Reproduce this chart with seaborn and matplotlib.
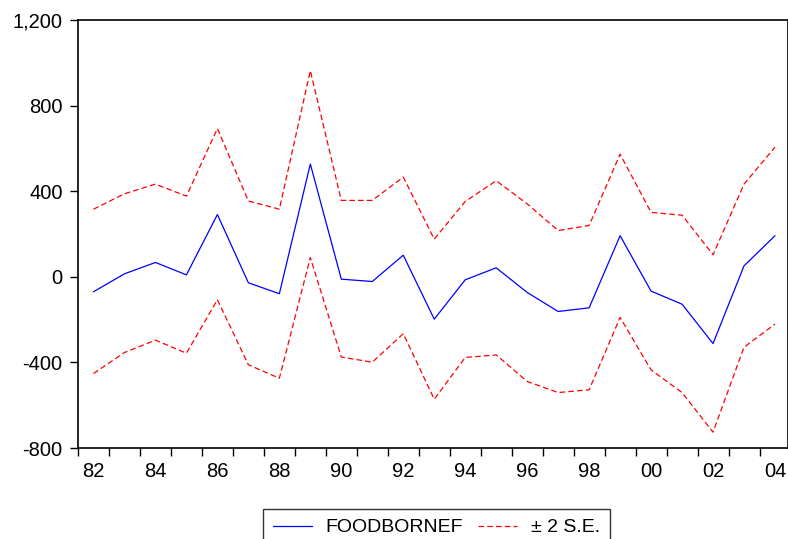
import matplotlib
matplotlib.use("Agg")
import matplotlib.pyplot as plt
from matplotlib.ticker import FuncFormatter, FixedLocator
import seaborn as sns
import pandas as pd

years = list(range(1982, 2005))
forecast = [-70, 14, 67, 9, 291, -28, -79, 527, -11, -22, 101,
            -198, -14, 42, -73, -162, -145, 192, -67, -128, -312, 51, 192]
upper = [316, 388, 433, 377, 693, 354, 316, 963, 357, 357, 466,
         176, 352, 449, 341, 216, 240, 573, 301, 288, 103, 433, 606]
lower = [-452, -354, -296, -357, -107, -411, -474, 90, -375, -399, -266,
         -572, -377, -365, -489, -541, -528, -190, -435, -541, -726, -329, -221]

series_label = "FOODBORNEF"
band_label = "\u00b1 2 S.E."

sns.set_style("white")
plt.rcParams["font.family"] = ["Liberation Sans", "DejaVu Sans"]
plt.rcParams["text.color"] = "black"
plt.rcParams["xtick.labelcolor"] = "black"
plt.rcParams["ytick.labelcolor"] = "black"

df = pd.DataFrame({"pos": range(len(years)), "forecast": forecast,
                   "upper": upper, "lower": lower})

fig = plt.figure(figsize=(7.88, 5.39), dpi=100)
ax = fig.add_axes([78 / 788, 1 - 448 / 539, 1 - 78 / 788, (448 - 20) / 539])

dash = (0, (4.5, 2.5))
sns.lineplot(data=df, x="pos", y="forecast", ax=ax, color="#0000ff",
             linewidth=0.9, label=series_label)
sns.lineplot(data=df, x="pos", y="upper", ax=ax, color="#ff0000",
             linewidth=0.9, label=band_label)
sns.lineplot(data=df, x="pos", y="lower", ax=ax, color="#ff0000",
             linewidth=0.9, label="_nolegend_")
for line in ax.get_lines()[1:]:
    line.set_linestyle(dash)

ax.set_xlim(-0.5, 22.42)
ax.set_ylim(-800, 1200)
ax.set_xlabel("")
ax.set_ylabel("")

# year boundaries get tick marks, labels sit mid-year every second year
ax.xaxis.set_major_locator(FixedLocator([i - 0.5 for i in range(len(years) + 1)]))
ax.set_xticklabels([])
ax.set_xticks(list(range(0, len(years), 2)), minor=True)
ax.set_xticklabels([f"{y % 100:02d}" for y in years[::2]], minor=True)
ax.tick_params(axis="x", which="major", direction="out", length=6, width=1,
               color="black", bottom=True)
ax.tick_params(axis="x", which="minor", length=0, labelsize=14.5, pad=10,
               labelcolor="black")

ax.set_yticks([-800, -400, 0, 400, 800, 1200])
ax.yaxis.set_major_formatter(FuncFormatter(lambda v, p: f"{int(v):,}"))
ax.tick_params(axis="y", direction="out", length=6, width=1, color="black",
               labelsize=14.5, left=True, pad=5, labelcolor="black")

for side in ["left", "bottom", "top", "right"]:
    ax.spines[side].set_color("black")
    ax.spines[side].set_linewidth(1.2)

ax.get_legend().remove()
handles, labels = ax.get_legend_handles_labels()
handles[1].set_linestyle(dash)
leg = fig.legend(handles, labels, loc="upper left",
                 bbox_to_anchor=(263 / 788, 1 - 509 / 539), ncol=2,
                 fontsize=14, frameon=True, fancybox=False, handlelength=2.0,
                 columnspacing=0.8, borderpad=0.5, borderaxespad=0,
                 handletextpad=0.7, labelcolor="black")
leg.get_frame().set_edgecolor("black")
leg.get_frame().set_linewidth(1.0)

fig.savefig("out.png", dpi=100)
